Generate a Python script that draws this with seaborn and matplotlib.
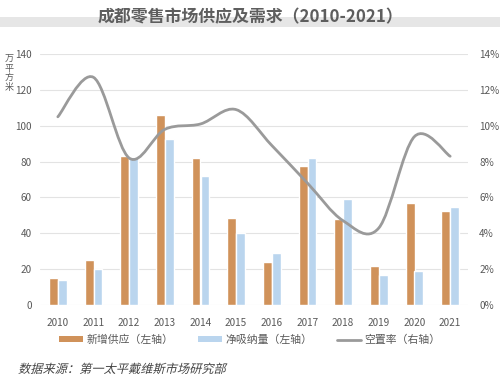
import numpy as np
import pandas as pd
import matplotlib
matplotlib.use('Agg')
import matplotlib.pyplot as plt
import seaborn as sns
from matplotlib.path import Path
from matplotlib.patches import PathPatch, Rectangle
from matplotlib.lines import Line2D
from matplotlib.ticker import FuncFormatter
from matplotlib.textpath import TextPath
from matplotlib.font_manager import FontProperties
from matplotlib.transforms import Affine2D

# Data
years = ['2010', '2011', '2012', '2013', '2014', '2015',
         '2016', '2017', '2018', '2019', '2020', '2021']
new_supply = [15, 25, 83, 106, 82, 48.5, 24, 77.5, 48, 22, 57, 52.5]
net_absorption = [14, 20, 82.5, 92.5, 72, 40, 29, 82, 59, 17, 19, 54.5]
vacancy = [10.5, 12.7, 8.2, 9.8, 10.1, 10.9, 8.9, 6.8, 4.7, 4.3, 9.4, 8.3]

series_names = ['新增供应（左轴）', '净吸纳量（左轴）']
line_name = '空置率（右轴）'

df = pd.DataFrame({
    'year': years * 2,
    'value': new_supply + net_absorption,
    'series': [series_names[0]] * len(years) + [series_names[1]] * len(years),
})

sns.set_style("white")
plt.rcParams['font.family'] = ['Noto Sans CJK SC', 'DejaVu Sans']

c_supply = '#D0925A'
c_absorb = '#BAD5EE'
c_line = '#9A9A9A'
c_text = '#595959'

fig = plt.figure(figsize=(5, 3.78), dpi=100)
ax = fig.add_axes([0.08, 0.193, 0.856, 0.664])

sns.barplot(data=df, x='year', y='value', hue='series', ax=ax,
            palette=[c_supply, c_absorb], width=0.5, gap=0, saturation=1,
            legend=False)

ax.set_ylim(0, 140)
ax.set_yticks(range(0, 141, 20))
ax.set_xlim(-0.5, len(years) - 0.5)
ax.grid(axis='y', color='#E3E3E3', linewidth=0.8)
ax.set_axisbelow(True)
for s in ax.spines.values():
    s.set_visible(False)
ax.set_xlabel('')
ax.set_ylabel('')
ax.tick_params(axis='both', length=0, labelsize=7.2, labelcolor=c_text, pad=6)
ax.tick_params(axis='x', pad=9)

# right axis with smooth vacancy line
ax2 = ax.twinx()
ax2.set_ylim(0, 14)
ax2.set_yticks(range(0, 15, 2))
ax2.yaxis.set_major_formatter(FuncFormatter(lambda v, p: f'{v:.0f}%'))
for s in ax2.spines.values():
    s.set_visible(False)
ax2.tick_params(axis='y', length=0, labelsize=7.2, labelcolor=c_text, pad=8)
ax2.grid(False)

# Excel-style smoothed line: cubic Bezier segments through data points
xs = np.arange(len(years), dtype=float)
ys = np.array(vacancy, dtype=float)
verts = [(xs[0], ys[0])]
codes = [Path.MOVETO]
n = len(xs)
for i in range(n - 1):
    p0 = (xs[max(i - 1, 0)], ys[max(i - 1, 0)])
    p1 = (xs[i], ys[i])
    p2 = (xs[i + 1], ys[i + 1])
    p3 = (xs[min(i + 2, n - 1)], ys[min(i + 2, n - 1)])
    c1 = (p1[0] + (p2[0] - p0[0]) / 6, p1[1] + (p2[1] - p0[1]) / 6)
    c2 = (p2[0] - (p3[0] - p1[0]) / 6, p2[1] - (p3[1] - p1[1]) / 6)
    verts += [c1, c2, p2]
    codes += [Path.CURVE4] * 3
ax2.add_patch(PathPatch(Path(verts, codes), facecolor='none',
                        edgecolor=c_line, linewidth=2.0, capstyle='round'))

# title band
fig.patches.append(Rectangle((0, 1 - 27 / 378), 1, 10 / 378, transform=fig.transFigure,
                             facecolor='#E6E6E6', edgecolor='none', zorder=0))
fig.text(0.5, 1 - 17 / 378, '成都零售市场供应及需求（2010-2021）', ha='center', va='center',
         fontsize=12.2, fontweight='bold', color='#5E5E5E')

# unit label
fig.text(0.018, 1 - 73 / 378, '万\n平\n方\n米', ha='center', va='center',
         fontsize=6.5, color=c_text, linespacing=1.05)

# legend
handles = [
    Rectangle((0, 0), 1, 1, facecolor=c_supply, edgecolor='none'),
    Rectangle((0, 0), 1, 1, facecolor=c_absorb, edgecolor='none'),
    Line2D([0], [0], color=c_line, linewidth=2),
]
leg = fig.legend(handles, series_names + [line_name], loc='center',
                 bbox_to_anchor=(0.5, 1 - 340 / 378), ncol=3, frameon=False,
                 fontsize=7.8, handlelength=2.2, handleheight=0.5,
                 columnspacing=2.3, handletextpad=0.3)
for t in leg.get_texts():
    t.set_color(c_text)

# source line, slanted like the original italic
src = '数据来源：第一太平戴维斯市场研究部'
tp = TextPath((0, 0), src, size=8.8 * 100 / 72,
              prop=FontProperties(family='Noto Sans CJK SC'))
tr = Affine2D().skew_deg(14, 0).translate(18, 378 - 373)
fig.patches.append(PathPatch(tr.transform_path(tp), facecolor='#444444',
                             edgecolor='none', transform=None))

fig.savefig('out.png', dpi=100, facecolor='white')
